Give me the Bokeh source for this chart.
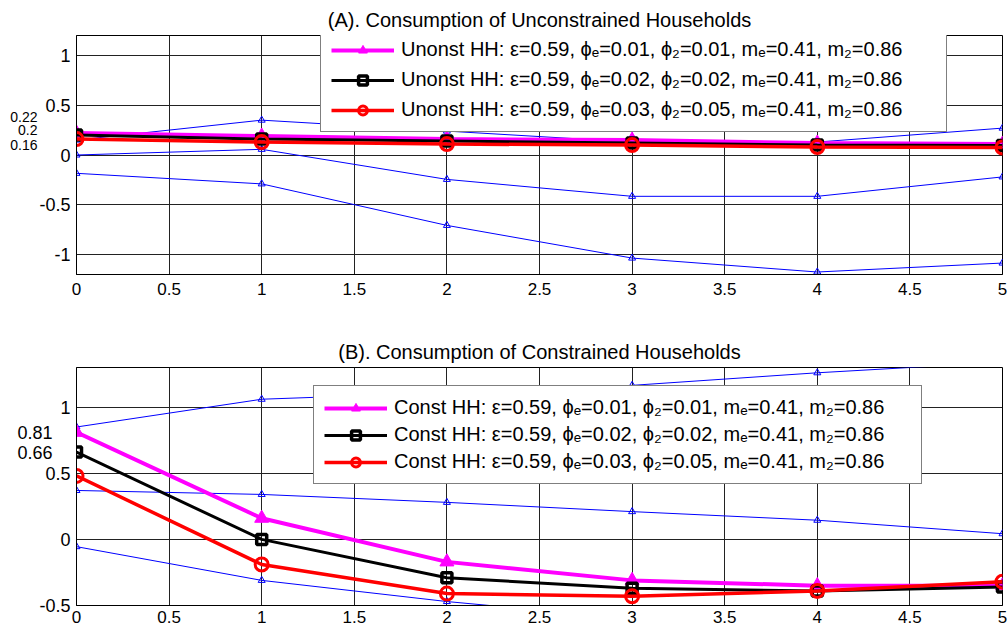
from bokeh.plotting import figure
from bokeh.layouts import column
from bokeh.models import Range1d, FixedTicker, Legend, LegendItem, LinearAxis
from bokeh.embed import file_html
from bokeh.resources import INLINE

periods = [0, 1, 2, 3, 4, 5]

# Panel A: unconstrained households
unc_a = [0.22, 0.19, 0.16, 0.15, 0.12, 0.11]
unc_b = [0.20, 0.16, 0.14, 0.12, 0.10, 0.095]
unc_c = [0.16, 0.13, 0.11, 0.10, 0.08, 0.075]
unc_hi = [0.15, 0.35, 0.24, 0.13, 0.13, 0.27]
unc_mid = [0.0, 0.057, -0.245, -0.415, -0.415, -0.22]
unc_lo = [-0.184, -0.29, -0.707, -1.035, -1.175, -1.085]

# Panel B: constrained households
con_a = [0.81, 0.16, -0.17, -0.31, -0.35, -0.35]
con_b = [0.66, 0.0, -0.29, -0.37, -0.39, -0.36]
con_c = [0.48, -0.19, -0.41, -0.43, -0.39, -0.32]
con_hi = [0.85, 1.06, 1.11, 1.165, 1.26, 1.34]
con_mid = [0.37, 0.34, 0.28, 0.21, 0.145, 0.043]
con_lo = [-0.055, -0.31, -0.47, -0.60, -0.68, -0.72]

params = [
    "ε=0.59, ϕₑ=0.01, ϕ₂=0.01, mₑ=0.41, m₂=0.86",
    "ε=0.59, ϕₑ=0.02, ϕ₂=0.02, mₑ=0.41, m₂=0.86",
    "ε=0.59, ϕₑ=0.03, ϕ₂=0.05, mₑ=0.41, m₂=0.86",
]

x_ticks = [0, 0.5, 1, 1.5, 2, 2.5, 3, 3.5, 4, 4.5, 5]
x_tick_labels = ["0", "0.5", "1", "1.5", "2", "2.5", "3", "3.5", "4", "4.5", "5"]
yA_ticks = [-1, -0.5, 0, 0.5, 1]
yA_tick_labels = ["-1", "-0.5", "0", "0.5", "1"]
yB_ticks = [-0.5, 0, 0.5, 1]
yB_tick_labels = ["-0.5", "0", "0.5", "1"]

# extra value notes written next to the y axis
A_notes = ["0.22", "0.2", "0.16"]
A_note_y = [0.379, 0.248, 0.105]
B_notes = ["0.81", "0.66"]
B_note_y = [0.81, 0.66]

FONT = "Liberation Sans"


def style_axis(ax, size):
    ax.major_tick_in = 0
    ax.major_tick_out = 0
    ax.minor_tick_in = 0
    ax.minor_tick_out = 0
    ax.major_label_text_font = FONT
    ax.major_label_text_font_size = size
    ax.major_label_text_color = "black"


def make_fig(title, height, ylo, yhi, yticks, ylabels, top, bottom, xstand):
    p = figure(width=1008, height=height, output_backend="svg", toolbar_location=None,
               x_range=Range1d(0, 5), y_range=Range1d(ylo, yhi),
               min_border_left=76, min_border_right=6,
               min_border_top=top, min_border_bottom=bottom)
    p.title.text = title
    p.title.align = "center"
    p.title.text_font = FONT
    p.title.text_font_size = "20px"
    p.title.text_font_style = "normal"
    p.title.text_color = "black"
    p.title.standoff = 9
    p.background_fill_color = "white"
    p.border_fill_color = "white"
    p.outline_line_color = "black"
    p.outline_line_width = 1
    p.xaxis.ticker = FixedTicker(ticks=x_ticks)
    p.xaxis.major_label_overrides = {t: s for t, s in zip(x_ticks, x_tick_labels)}
    p.yaxis.ticker = FixedTicker(ticks=yticks)
    p.yaxis.major_label_overrides = {t: s for t, s in zip(yticks, ylabels)}
    style_axis(p.xaxis[0], "17px")
    style_axis(p.yaxis[0], "18px")
    p.xaxis.axis_line_color = "black"
    p.yaxis.axis_line_color = "black"
    p.xaxis.major_label_standoff = xstand
    p.yaxis.major_label_standoff = 6
    p.xgrid.ticker = FixedTicker(ticks=x_ticks)
    p.ygrid.ticker = FixedTicker(ticks=yticks)
    p.grid.grid_line_color = "#222222"
    p.grid.grid_line_width = 1
    p.grid.grid_line_alpha = 1
    return p


def add_notes(p, ys, texts, size, standoff):
    ax = LinearAxis(ticker=FixedTicker(ticks=ys),
                    major_label_overrides={y: t for y, t in zip(ys, texts)})
    style_axis(ax, size)
    ax.axis_line_color = None
    ax.major_label_standoff = standoff
    p.add_layout(ax, "left")


def draw_panel(p, hi, mid, lo, a, b, c, prefix, loc, lab_w, spacing):
    for band in (hi, mid, lo):
        p.line(periods, band, line_color="#0000ff", line_width=1)
        p.scatter(periods, band, marker="triangle", size=7, fill_color=None,
                  line_color="#0000ff", line_width=1)
    la = p.line(periods, a, line_color="#ff00ff", line_width=4)
    sa = p.scatter(periods, a, marker="triangle", size=14, fill_color="#ff00ff",
                   line_color="#ff00ff", line_width=1)
    lb = p.line(periods, b, line_color="black", line_width=3)
    sb = p.scatter(periods, b, marker="square", size=10, fill_color=None,
                   line_color="black", line_width=3.5)
    lc = p.line(periods, c, line_color="#ff0000", line_width=3.5)
    sc = p.scatter(periods, c, marker="circle", size=13, fill_color=None,
                   line_color="#ff0000", line_width=3)
    items = [LegendItem(label=prefix + params[0], renderers=[la, sa]),
             LegendItem(label=prefix + params[1], renderers=[lb, sb]),
             LegendItem(label=prefix + params[2], renderers=[lc, sc])]
    leg = Legend(items=items, location=loc, margin=0, padding=10, spacing=spacing,
                 glyph_width=63, glyph_height=22, label_standoff=7,
                 label_text_font=FONT, label_text_font_size="20px",
                 label_text_color="black", label_height=22, label_width=lab_w,
                 border_line_color="black", border_line_width=1,
                 background_fill_color="white", background_fill_alpha=1)
    p.add_layout(leg)


pA = make_fig("(A). Consumption of Unconstrained Households", 305, -1.2, 1.2,
              yA_ticks, yA_tick_labels, 35, 31, 8)
draw_panel(pA, unc_hi, unc_mid, unc_lo, unc_a, unc_b, unc_c, "Unonst HH: ",
           (244, 142), 535, 7)
add_notes(pA, A_note_y, A_notes, "14px", -1)

pB = make_fig("(B). Consumption of Constrained Households", 324, -0.5, 1.3,
              yB_ticks, yB_tick_labels, 62, 24, 5)
draw_panel(pB, con_hi, con_mid, con_lo, con_a, con_b, con_c, "Const HH: ",
           (237, 121), 517, 4)
add_notes(pB, B_note_y, B_notes, "18px", -16)

layout = column(pA, pB, spacing=0)
open("out.html", "w").write(file_html(layout, INLINE))
